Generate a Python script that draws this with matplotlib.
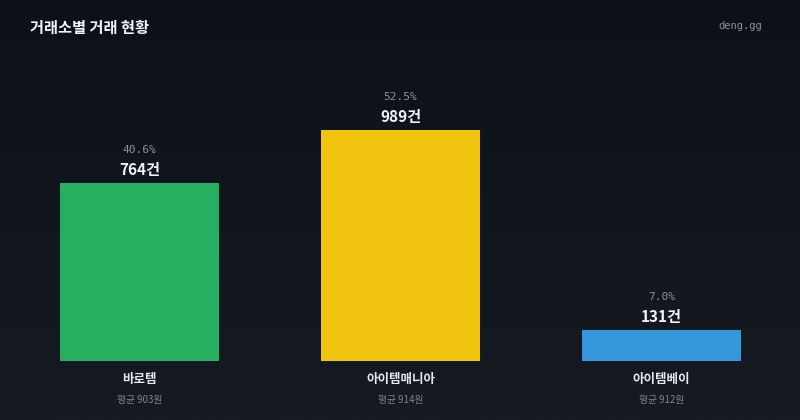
import matplotlib
matplotlib.use("Agg")
import matplotlib.pyplot as plt
import numpy as np
from matplotlib.colors import LinearSegmentedColormap

plt.rcParams['font.family'] = ['Noto Sans CJK KR', 'DejaVu Sans']

categories = ["바로템", "아이템매니아", "아이템베이"]
counts = [764, 989, 131]
percents = ["40.6%", "52.5%", "7.0%"]
avg_prices = ["평균 903원", "평균 914원", "평균 912원"]
colors = ["#27ae60", "#f1c40f", "#3498db"]
title = "거래소별 거래 현황"
brand = "deng.gg"

W, H = 800, 420
fig = plt.figure(figsize=(W / 100, H / 100), dpi=100)

# background gradient
bg = fig.add_axes([0, 0, 1, 1], zorder=0)
cmap = LinearSegmentedColormap.from_list("bg", ["#0d1117", "#161a22"])
grad = np.linspace(0, 1, 256).reshape(-1, 1)
bg.imshow(grad, aspect="auto", cmap=cmap, extent=[0, 1, 0, 1], origin="upper")
bg.axis("off")

def px(x, y, w, h):
    return [x / W, 1 - (y + h) / H, w / W, h / H]

ax_top = 100
ax_bottom = 361
ax = fig.add_axes(px(9, ax_top, 783, ax_bottom - ax_top), zorder=1)
ax.patch.set_alpha(0)
x = np.arange(len(categories))
ax.bar(x, counts, width=159 / 261, color=colors)
ax.set_xlim(-0.5, len(categories) - 0.5)
ax.set_ylim(0, (ax_bottom - ax_top) / (231 / 989))
ax.axis("off")

P = 0.72  # px -> points
for i, (c, p, name, avg) in enumerate(zip(counts, percents, categories, avg_prices)):
    ax.annotate(f"{c}건", xy=(i, c), xytext=(0, 13 * P), textcoords="offset points",
                ha="center", va="center", color="#f0f3f6", fontsize=11, fontweight="bold",
                annotation_clip=False)
    ax.annotate(p, xy=(i, c), xytext=(0, 33 * P), textcoords="offset points",
                ha="center", va="center", color="#8b929b", fontsize=8,
                family=["DejaVu Sans Mono"], annotation_clip=False)
    ax.annotate(name, xy=(i, 0), xytext=(0, -19 * P), textcoords="offset points",
                ha="center", va="center", color="#e6e9ed", fontsize=9, fontweight="bold",
                annotation_clip=False)
    ax.annotate(avg, xy=(i, 0), xytext=(0, -39 * P), textcoords="offset points",
                ha="center", va="center", color="#7d848d", fontsize=7,
                annotation_clip=False)

fig.text(30 / W, 1 - 28 / H, title, ha="left", va="center", color="#f0f3f6",
         fontsize=11, fontweight="bold")
fig.text(762 / W, 1 - 26 / H, brand, ha="right", va="center", color="#8b929b",
         fontsize=7.5, family=["DejaVu Sans Mono"])

fig.savefig("out.png", dpi=100, facecolor="#0d1117")
